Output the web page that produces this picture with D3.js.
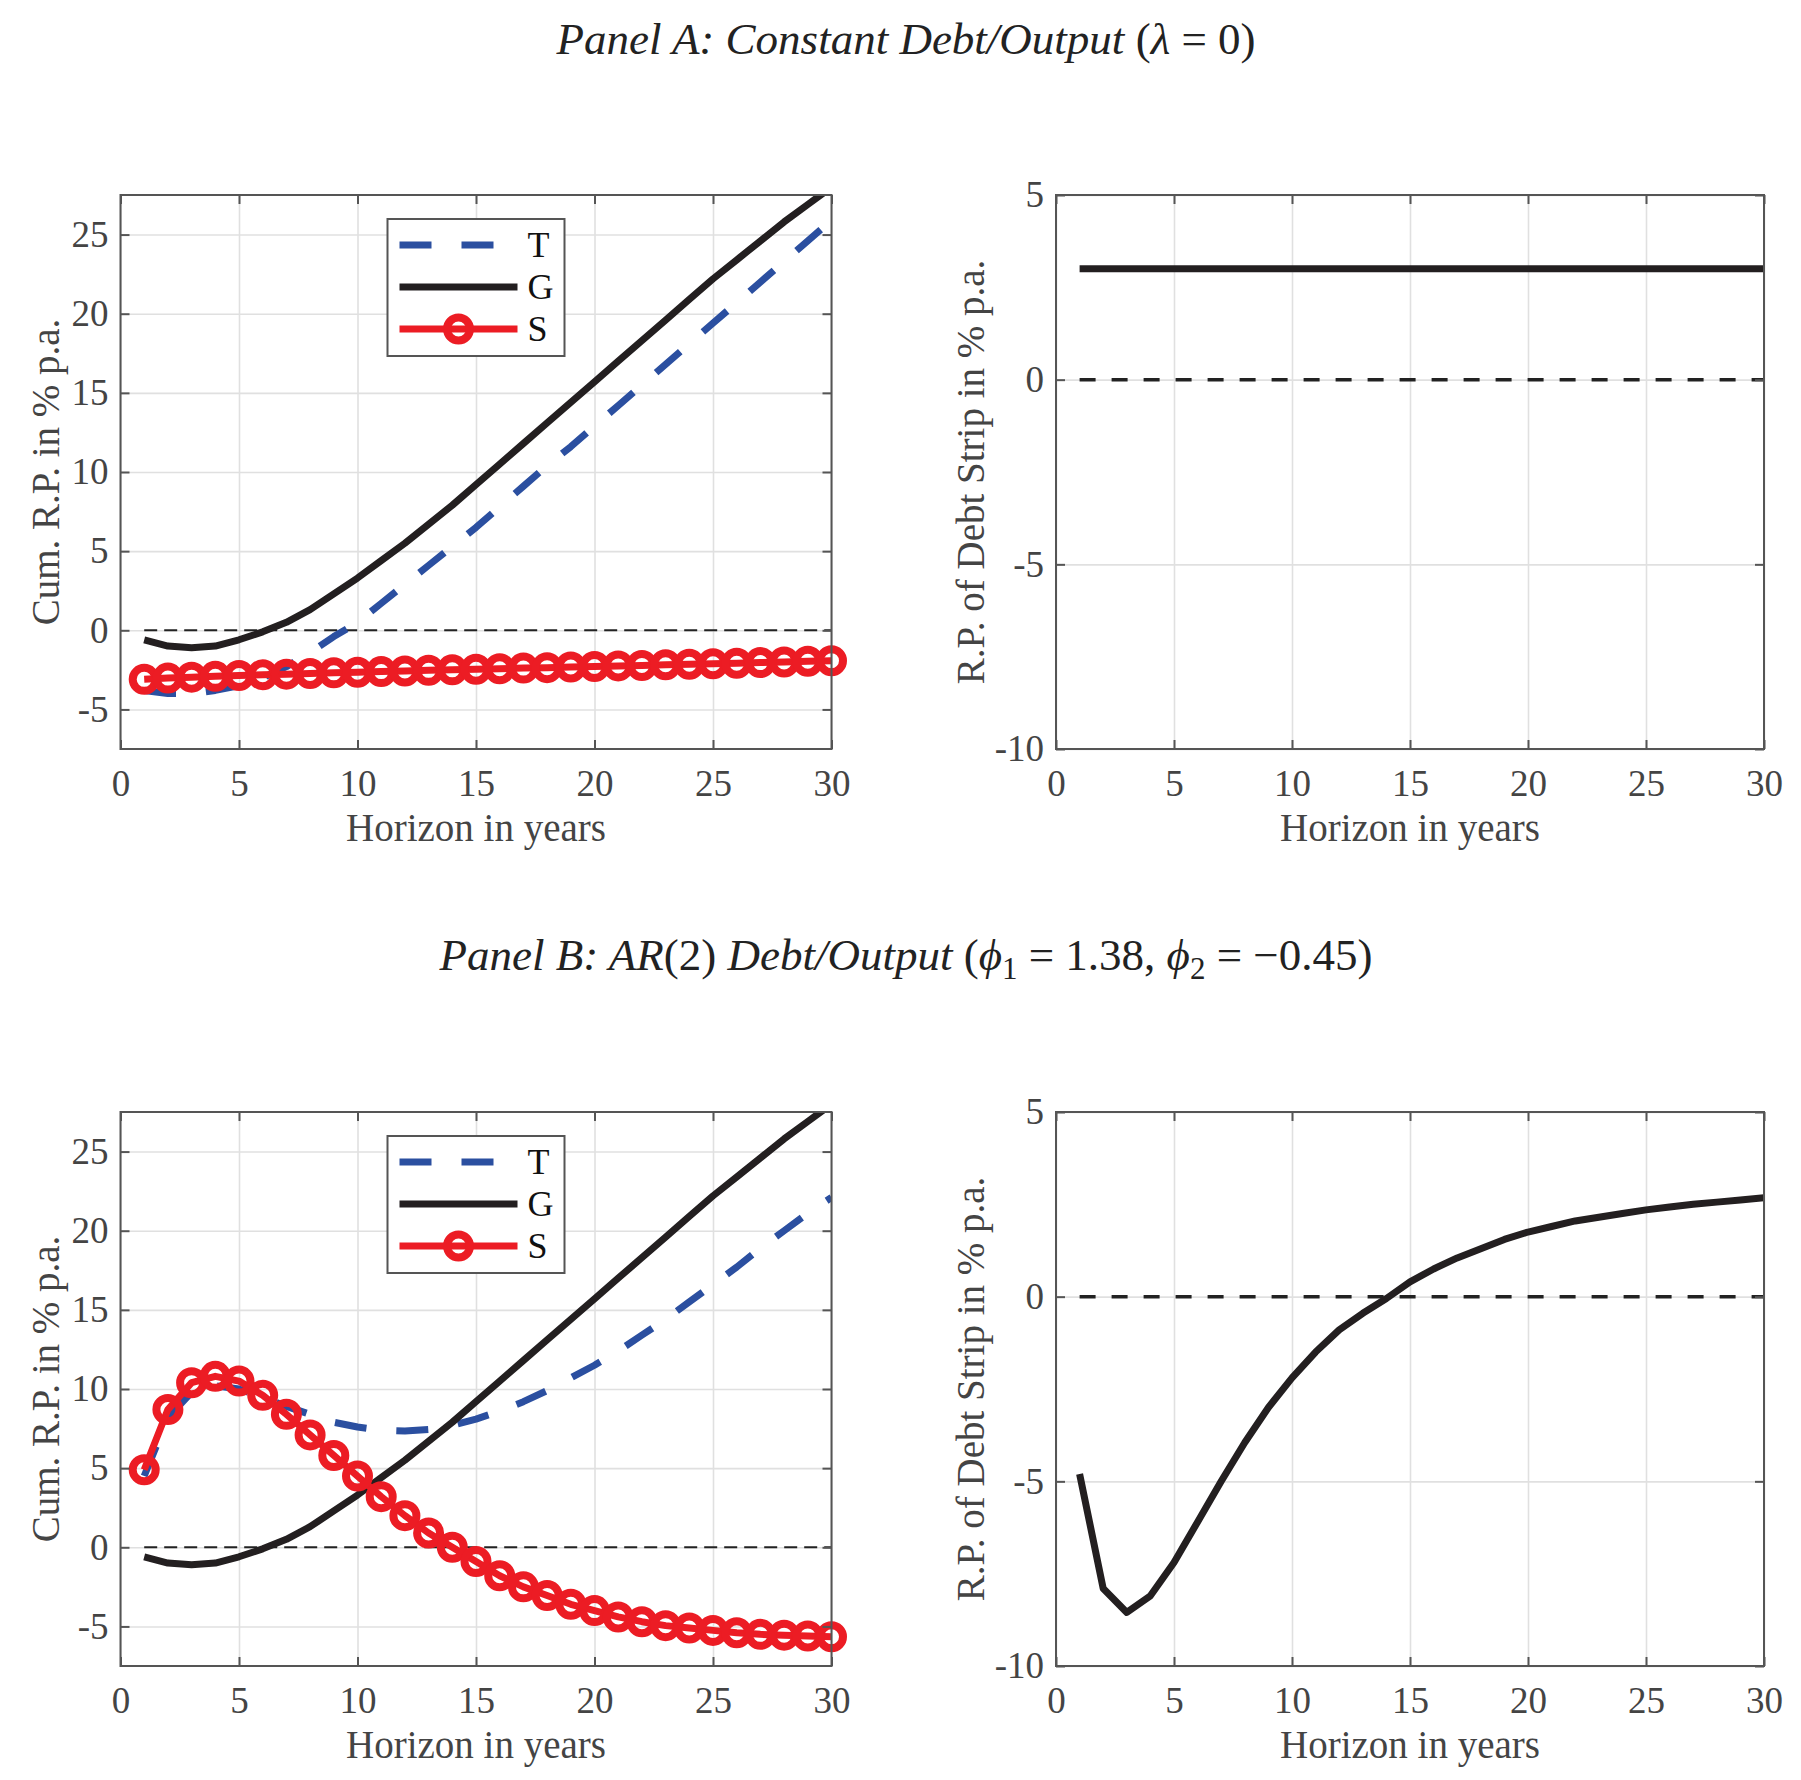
<!DOCTYPE html>
<html><head><meta charset="utf-8">
<script src="https://cdn.jsdelivr.net/npm/d3@7"></script>
<style>body{margin:0;background:#fff}</style>
</head><body><svg id="c" width="1801" height="1780" xmlns="http://www.w3.org/2000/svg"></svg>
<script>
// ---------- data ----------
const horizon = [1,2,3,4,5,6,7,8,9,10,11,12,13,14,15,16,17,18,19,20,21,22,23,24,25,26,27,28,29,30];
const xTicks = [0,5,10,15,20,25,30];
const yTicksCum = [-5,0,5,10,15,20,25];
const yTicksStrip = [-10,-5,0,5];
const seriesNames = ["T","G","S"];

// Panel A
const tA = [-3.8,-4.0,-4.0,-3.8,-3.5,-3.0,-2.3,-1.4,-0.4,0.5,1.7,2.9,4.1,5.3,6.5,7.8,9.1,10.4,11.6,12.9,14.2,15.5,16.8,18.1,19.4,20.7,22.0,23.3,24.6,25.9];
const gA = [-0.6,-1.0,-1.1,-1.0,-0.6,-0.1,0.5,1.3,2.3,3.3,4.4,5.5,6.7,7.9,9.2,10.5,11.8,13.1,14.4,15.7,17.0,18.3,19.6,20.9,22.2,23.4,24.6,25.8,26.9,28.0];
const sA = [-3.1,-3.02,-2.96,-2.91,-2.86,-2.81,-2.77,-2.73,-2.69,-2.65,-2.61,-2.57,-2.53,-2.5,-2.46,-2.43,-2.39,-2.36,-2.32,-2.29,-2.25,-2.22,-2.18,-2.15,-2.11,-2.08,-2.04,-2.0,-1.96,-1.92];
const stripA = [3.0,3.0,3.0,3.0,3.0,3.0,3.0,3.0,3.0,3.0,3.0,3.0,3.0,3.0,3.0,3.0,3.0,3.0,3.0,3.0,3.0,3.0,3.0,3.0,3.0,3.0,3.0,3.0,3.0,3.0];

// Panel B
const tB = [4.5,8.2,9.8,10.2,10.0,9.5,8.9,8.4,7.9,7.6,7.4,7.35,7.45,7.7,8.1,8.6,9.2,9.9,10.7,11.5,12.4,13.4,14.4,15.5,16.6,17.7,18.9,20.0,21.1,22.1];
const gB = [-0.6,-1.0,-1.1,-1.0,-0.6,-0.1,0.5,1.3,2.3,3.3,4.4,5.5,6.7,7.9,9.2,10.5,11.8,13.1,14.4,15.7,17.0,18.3,19.6,20.9,22.2,23.4,24.6,25.8,26.9,28.0];
const sB = [4.9,8.7,10.4,10.8,10.5,9.6,8.4,7.1,5.8,4.5,3.2,2.0,0.9,0.0,-0.9,-1.8,-2.5,-3.05,-3.6,-4.0,-4.4,-4.7,-4.95,-5.1,-5.25,-5.4,-5.5,-5.55,-5.6,-5.65];
const stripB = [-4.8,-7.9,-8.55,-8.1,-7.2,-6.1,-5.0,-3.95,-3.0,-2.2,-1.5,-0.9,-0.45,-0.05,0.4,0.75,1.05,1.3,1.55,1.75,1.9,2.05,2.15,2.25,2.35,2.43,2.5,2.56,2.62,2.68];

// ---------- style ----------
const COL = {T:"#2b4fa0", G:"#231f20", S:"#ec1c24"};
const AXC = "#555555", TXT = "#444444", GRID = "#e0e0e0";
const FONT = "'Liberation Serif','Times New Roman',serif";

const svg = d3.select("#c");
svg.append("rect").attr("width",1801).attr("height",1780).attr("fill","#fff");

function drawPanel(box, yDomain, yTicks, ylabel, series, id, legend, zeroStyle) {
  const x = d3.scaleLinear().domain([0,30]).range([box.x0, box.x1]);
  const y = d3.scaleLinear().domain(yDomain).range([box.y1, box.y0]);
  const W = box.x1 - box.x0, H = box.y1 - box.y0;
  const g = svg.append("g");

  // grid
  g.append("g").attr("transform",`translate(0,${box.y1})`)
    .call(d3.axisBottom(x).tickValues(xTicks).tickSize(-H).tickFormat(""))
    .call(s => { s.select(".domain").remove(); s.selectAll("line").attr("stroke",GRID).attr("stroke-width",1.6); });
  g.append("g").attr("transform",`translate(${box.x0},0)`)
    .call(d3.axisLeft(y).tickValues(yTicks).tickSize(-W).tickFormat(""))
    .call(s => { s.select(".domain").remove(); s.selectAll("line").attr("stroke",GRID).attr("stroke-width",1.6); });

  // clip
  svg.append("clipPath").attr("id","clip"+id).append("rect")
    .attr("x",box.x0).attr("y",box.y0).attr("width",W).attr("height",H);
  const plot = g.append("g").attr("clip-path",`url(#clip${id})`);

  // zero line
  plot.append("line").attr("x1",x(1)).attr("x2",x(30)).attr("y1",y(0)).attr("y2",y(0))
    .attr("stroke","#222").attr("stroke-width",zeroStyle.w).attr("stroke-dasharray",zeroStyle.dash);

  const line = d3.line().x((d,i)=>x(horizon[i])).y(d=>y(d));
  series.forEach(s => {
    plot.append("path").datum(s.values).attr("d",line).attr("fill","none")
      .attr("stroke",s.color).attr("stroke-width",7)
      .attr("stroke-dasharray",s.dash||null).attr("stroke-linejoin","round");
  });
  series.filter(s=>s.marker).forEach(s => {
    g.append("g").selectAll("circle").data(s.values).join("circle")
      .attr("cx",(d,i)=>x(horizon[i])).attr("cy",d=>y(d)).attr("r",11.5)
      .attr("fill","none").attr("stroke",s.color).attr("stroke-width",8);
  });

  // axes with inward ticks on all four sides
  const tickStyle = s => {
    s.select(".domain").remove();
    s.selectAll(".tick line").attr("stroke",AXC).attr("stroke-width",2);
    s.selectAll("text").attr("fill",TXT).style("font-family",FONT).style("font-size","37px");
  };
  g.append("g").attr("transform",`translate(0,${box.y1})`)
    .call(d3.axisBottom(x).tickValues(xTicks).tickSize(-9).tickPadding(21).tickFormat(d3.format("d")))
    .call(tickStyle);
  g.append("g").attr("transform",`translate(0,${box.y0})`)
    .call(d3.axisTop(x).tickValues(xTicks).tickSize(-9).tickFormat(""))
    .call(tickStyle);
  g.append("g").attr("transform",`translate(${box.x0},0)`)
    .call(d3.axisLeft(y).tickValues(yTicks).tickSize(-9).tickPadding(12).tickFormat(d => d < 0 ? "-" + Math.abs(d) : String(d)))
    .call(tickStyle);
  g.append("g").attr("transform",`translate(${box.x1},0)`)
    .call(d3.axisRight(y).tickValues(yTicks).tickSize(-9).tickFormat(""))
    .call(tickStyle);

  g.append("rect").attr("x",box.x0).attr("y",box.y0).attr("width",W).attr("height",H)
    .attr("fill","none").attr("stroke",AXC).attr("stroke-width",2);

  // labels
  g.append("text").attr("x",(box.x0+box.x1)/2).attr("y",box.y1+92)
    .attr("text-anchor","middle").attr("fill",TXT).style("font-family",FONT).style("font-size","39px")
    .text("Horizon in years");
  g.append("text").attr("transform",`translate(${box.x0-ylabel.off},${(box.y0+box.y1)/2}) rotate(-90)`)
    .attr("text-anchor","middle").attr("fill",TXT).style("font-family",FONT).style("font-size","39px")
    .text(ylabel.text);

  // legend
  if (legend) {
    const lx = box.x0 + 267, ly = box.y0 + 24;
    const lg = g.append("g");
    lg.append("rect").attr("x",lx).attr("y",ly).attr("width",177).attr("height",137)
      .attr("fill","#fff").attr("stroke",AXC).attr("stroke-width",2);
    series.forEach((s,i) => {
      const yy = ly + 26 + i*42;
      lg.append("line").attr("x1",lx+12).attr("x2",lx+130).attr("y1",yy).attr("y2",yy)
        .attr("stroke",s.color).attr("stroke-width",7).attr("stroke-dasharray",s.dash||null);
      if (s.marker) lg.append("circle").attr("cx",lx+71).attr("cy",yy).attr("r",11.5)
        .attr("fill","none").attr("stroke",s.color).attr("stroke-width",8);
      lg.append("text").attr("x",lx+140).attr("y",yy+12).attr("fill","#111")
        .style("font-family",FONT).style("font-size","36px").text(s.name);
    });
  }
}

const boxAL = {x0:120.5, x1:831.5, y0:195, y1:749};
const boxAR = {x0:1056, x1:1764, y0:195, y1:749};
const boxBL = {x0:120.5, x1:831.5, y0:1112, y1:1666};
const boxBR = {x0:1056, x1:1764, y0:1112, y1:1666};

const yCum = {text:"Cum. R.P. in % p.a.", off:62};
const yStrip = {text:"R.P. of Debt Strip in % p.a.", off:72};
const zThin = {w:2, dash:"13,7"}, zThick = {w:3.5, dash:"16,16"};

drawPanel(boxAL, [-7.5,27.5], yTicksCum, yCum, [
  {name:seriesNames[0], values:tA, color:COL.T, dash:"32,30"},
  {name:seriesNames[1], values:gA, color:COL.G},
  {name:seriesNames[2], values:sA, color:COL.S, marker:true}], "AL", true, zThin);
drawPanel(boxAR, [-10,5], yTicksStrip, yStrip, [
  {name:"D", values:stripA, color:COL.G}], "AR", false, zThick);
drawPanel(boxBL, [-7.5,27.5], yTicksCum, yCum, [
  {name:seriesNames[0], values:tB, color:COL.T, dash:"32,30"},
  {name:seriesNames[1], values:gB, color:COL.G},
  {name:seriesNames[2], values:sB, color:COL.S, marker:true}], "BL", true, zThin);
drawPanel(boxBR, [-10,5], yTicksStrip, yStrip, [
  {name:"D", values:stripB, color:COL.G}], "BR", false, zThick);

// titles
const SP = "\u2005";
const tA_ = svg.append("text").attr("x",906).attr("y",54).attr("text-anchor","middle")
  .attr("fill","#222").style("font-family",FONT).style("font-size","45px");
tA_.append("tspan").style("font-style","italic").text("Panel A: Constant Debt/Output ");
tA_.append("tspan").text("(");
tA_.append("tspan").style("font-style","italic").text("λ");
tA_.append("tspan").text(SP+"="+SP+"0)");

const tB_ = svg.append("text").attr("x",906).attr("y",970).attr("text-anchor","middle")
  .attr("fill","#222").style("font-family",FONT).style("font-size","45px");
tB_.append("tspan").style("font-style","italic").text("Panel B: AR");
tB_.append("tspan").text("(2) ");
tB_.append("tspan").style("font-style","italic").text("Debt/Output ");
tB_.append("tspan").text("(");
tB_.append("tspan").style("font-style","italic").text("ϕ");
tB_.append("tspan").attr("dy",9).style("font-size","31px").text("1");
tB_.append("tspan").attr("dy",-9).text(SP+"="+SP+"1.38, ");
tB_.append("tspan").style("font-style","italic").text("ϕ");
tB_.append("tspan").attr("dy",9).style("font-size","31px").text("2");
tB_.append("tspan").attr("dy",-9).text(SP+"="+SP+"−0.45)");
</script></body></html>
